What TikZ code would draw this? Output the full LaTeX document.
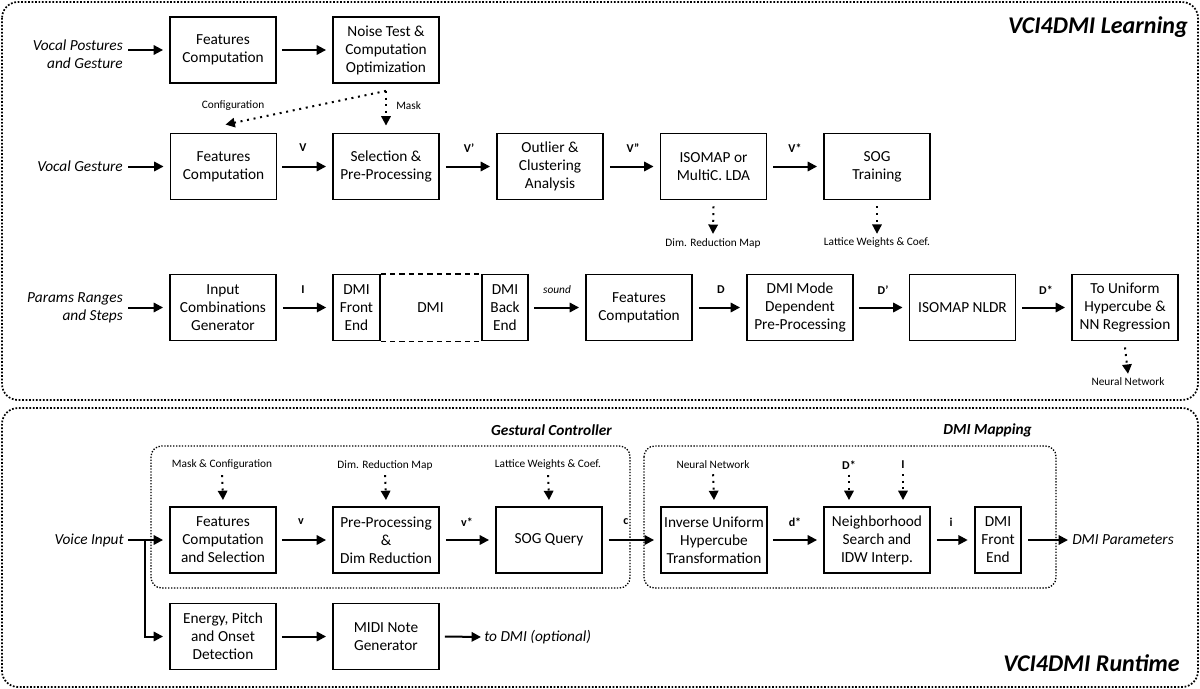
\documentclass[tikz,border=0pt]{standalone}
\usepackage{fontspec}
\setmainfont{Carlito}
\usetikzlibrary{arrows.meta,calc}
\begin{document}
\begin{tikzpicture}[x=0.75pt,y=-0.75pt,
 box/.style={draw, line width=1.4pt, minimum width=79.5pt, minimum height=49.5pt, align=center, font=\fontsize{11.5}{13.5}\selectfont, inner sep=1pt},
 narrow/.style={box, minimum width=35pt},
 arr/.style={line width=1.5pt, -{Triangle[length=7pt,width=7pt]}},
 darr/.style={line width=1.5pt, dash pattern=on 1.5pt off 3.5pt, -{Triangle[length=7pt,width=7pt]}},
 lbl/.style={font=\fontsize{11.5}{13.5}\selectfont\itshape, align=right, inner sep=0pt},
 small/.style={font=\fontsize{8.5}{10}\selectfont, inner sep=0pt},
 var/.style={font=\fontsize{9}{10}\selectfont\bfseries, inner sep=0pt},
 ttl/.style={font=\fontsize{18}{20}\selectfont\bfseries\itshape, inner sep=0pt},
 sttl/.style={font=\fontsize{11.5}{13}\selectfont\bfseries\itshape, inner sep=0pt},
 grp/.style={draw, line width=1pt, dash pattern=on 1pt off 1.2pt, rounded corners=8pt},
 outer/.style={draw, line width=1.3pt, dash pattern=on 1.3pt off 1.3pt, rounded corners=12pt},
]
\useasboundingbox (0,0) rectangle (1200,689);
% outer frames
\draw[outer] (2,2) rectangle (1198,400);
\draw[outer] (2,408) rectangle (1198,687);
\node[ttl, anchor=east] (tl) at (1188,27) {VCI4DMI Learning};
\node[ttl, anchor=east] (tr) at (1180,663) {VCI4DMI Runtime};

% ---------- Row 1
\node[lbl, anchor=east] (vp) at (123,54) {Vocal Postures\\and Gesture};
\node[box] (fc1) at (223,50) {Features\\Computation};
\node[box] (noise) at (386,50) {Noise Test \&\\Computation\\Optimization};
\draw[arr] ($(vp.east |- fc1.west)+(5,0)$) -- ($(fc1.west)+(-6,0)$);
\draw[arr] ($(fc1.east)+(5,0)$) -- ($(noise.west)+(-6,0)$);

% ---------- Row 2
\node[lbl, anchor=east] (vg) at (123,166.5) {Vocal Gesture};
\node[box] (fc2) at (223.5,166.5) {Features\\Computation};
\node[box] (sel) at (386,166.5) {Selection \&\\Pre-Processing};
\node[box] (outl) at (550,166.5) {Outlier \&\\Clustering\\Analysis};
\node[box] (iso) at (713.5,166.5) {ISOMAP or\\MultiC. LDA};
\node[box] (sog) at (877,166.5) {SOG\\Training};
\draw[arr] ($(vg.east)+(5,0)$) -- ($(fc2.west)+(-6,0)$);
\draw[arr] ($(fc2.east)+(5,0)$) -- ($(sel.west)+(-6,0)$);
\draw[arr] ($(sel.east)+(6,0)$) -- ($(outl.west)+(-6,0)$);
\draw[arr] ($(outl.east)+(6,0)$) -- ($(iso.west)+(-6,0)$);
\draw[arr] ($(iso.east)+(6,0)$) -- ($(sog.west)+(-6,0)$);
\node[var] (v1) at (303,148) {V};
\node[var] (v2) at (469,148) {V’};
\node[var] (v3) at (633,148) {V”};
\node[var] (v4) at (795,148) {V*};
\coordinate (nsb) at ($(noise.south)+(0,7)$);
\draw[darr] (nsb) -- ($(sel.north)+(0,-7)$);
\draw[darr] (nsb) -- ($(fc2.north)+(2,-8)$);
\node[small, anchor=west] (mask) at (396,106) {Mask};
\node[small] (conf) at (233,106) {Configuration};
\node[small] (dimmap) at (713,243) {Dim. Reduction Map};
\node[small] (latt) at (877,243) {Lattice Weights \& Coef.};
\draw[darr] ($(iso.south)+(0,6)$) -- ($(dimmap.north)+(0,-4)$);
\draw[darr] ($(sog.south)+(0,6)$) -- ($(latt.north)+(0,-4)$);

% ---------- Row 3
\node[lbl, anchor=east] (pr) at (123,307.5) {Params Ranges\\and Steps};
\node[box] (icg) at (223,307.5) {Input\\Combinations\\Generator};
\node[narrow] (fe) at (356.5,307.5) {DMI\\Front\\End};
\node[narrow] (be) at (505,307.5) {DMI\\Back\\End};
\draw[line width=1.4pt, dash pattern=on 4pt off 3pt] (fe.north east) -- (be.north west) (fe.south east) -- (be.south west);
\node[font=\fontsize{11.5}{13.5}\selectfont] (dmi) at (430.5,307.5) {DMI};
\node[box] (fc3) at (639,307.5) {Features\\Computation};
\node[box] (mode) at (800,307.5) {DMI Mode\\Dependent\\Pre-Processing};
\node[box] (nldr) at (962.5,307.5) {ISOMAP NLDR};
\node[box] (unif) at (1125,307.5) {To Uniform\\Hypercube \&\\NN Regression};
\draw[arr] ($(pr.east)+(5,0)$) -- ($(icg.west)+(-6,0)$);
\draw[arr] ($(icg.east)+(6,0)$) -- ($(fe.west)+(-6,0)$);
\draw[arr] ($(be.east)+(5,0)$) -- ($(fc3.west)+(-6,0)$);
\draw[arr] ($(fc3.east)+(6,0)$) -- ($(mode.west)+(-6,0)$);
\draw[arr] ($(mode.east)+(5,0)$) -- ($(nldr.west)+(-6,0)$);
\draw[arr] ($(nldr.east)+(6,0)$) -- ($(unif.west)+(-6,0)$);
\node[var] (iI) at (303,290) {I};
\node[small, font=\fontsize{8.5}{10}\selectfont\itshape] (snd) at (557,290) {sound};
\node[var] (dD) at (721,290) {D};
\node[var] (dD2) at (883,290) {D’};
\node[var] (dD3) at (1046,290) {D*};
\node[small] (nn) at (1128,382) {Neural Network};
\draw[darr] ($(unif.south)+(0,6)$) -- ($(nn.north)+(0,-4)$);

% ---------- Runtime
\draw[grp] (151,446) rectangle (630,588);
\draw[grp] (644,446) rectangle (1056,588);
\node[sttl, anchor=east] (gc) at (612,430) {Gestural Controller};
\node[sttl, anchor=east] (dm) at (1032,430) {DMI Mapping};

\node[lbl, anchor=east] (voice) at (124,540) {Voice Input};
\node[box] (fcs) at (223,540) {Features\\Computation\\and Selection};
\node[box] (pre) at (386,540) {Pre-Processing\\\&\\Dim Reduction};
\node[box] (sogq) at (549,540) {SOG Query};
\node[box] (inv) at (714,540) {Inverse Uniform\\Hypercube\\Transformation};
\node[box] (nbh) at (877,540) {Neighborhood\\Search and\\IDW Interp.};
\node[narrow] (fe2) at (998,540) {DMI\\Front\\End};
\node[lbl, anchor=west] (dmip) at (1072,540) {DMI Parameters};

\draw[arr] ($(voice.east)+(4,0)$) -- ($(fcs.west)+(-6,0)$);
\draw[arr] ($(fcs.east)+(5,0)$) -- ($(pre.west)+(-6,0)$);
\draw[arr] ($(pre.east)+(6,0)$) -- ($(sogq.west)+(-6,0)$);
\draw[arr] ($(sogq.east)+(6,0)$) -- ($(inv.west)+(-6,0)$);
\draw[arr] ($(inv.east)+(5,0)$) -- ($(nbh.west)+(-6,0)$);
\draw[arr] ($(nbh.east)+(6,0)$) -- ($(fe2.west)+(-6,0)$);
\draw[arr] ($(fe2.east)+(6,0)$) -- ($(dmip.west)+(-4,0)$);

\node[var] (lv) at (301,522) {v};
\node[var] (lvs) at (467,522) {v*};
\node[var] (lc) at (626,522) {c};
\node[var] (lds) at (795,522) {d*};
\node[var] (li) at (951,522) {i};

\node[small] (mc) at (222,465) {Mask \& Configuration};
\node[small] (drm) at (385,465) {Dim. Reduction Map};
\node[small] (lwc) at (548,465) {Lattice Weights \& Coef.};
\node[small] (nnw) at (713,465) {Neural Network};
\node[var] (dsI) at (849,465) {D*};
\node[var] (iI2) at (903,465) {I};
\draw[darr] ($(mc.south)+(0,5)$) -- ($(fcs.north)+(0,-6)$);
\draw[darr] ($(drm.south)+(0,5)$) -- ($(pre.north)+(0,-6)$);
\draw[darr] ($(lwc.south)+(0,5)$) -- ($(sogq.north)+(0,-6)$);
\draw[darr] ($(nnw.south)+(0,5)$) -- ($(inv.north)+(0,-6)$);
\draw[darr] ($(dsI.south)+(0,5)$) -- ($(nbh.north -| dsI.south)+(0,-6)$);
\draw[darr] ($(iI2.south)+(0,5)$) -- ($(nbh.north -| iI2.south)+(0,-6)$);

\node[box] (energy) at (223,636.5) {Energy, Pitch\\and Onset\\Detection};
\node[box] (midi) at (386,636.5) {MIDI Note\\Generator};
\node[lbl, anchor=west] (todmi) at (484,637) {to DMI (optional)};
\coordinate (br) at (145,540);
\draw[arr] (br) |- ($(energy.west)+(-6,0)$);
\draw[arr] ($(energy.east)+(5,0)$) -- ($(midi.west)+(-6,0)$);
\draw[arr] ($(midi.east)+(5,0)$) -- ($(todmi.west)+(-3,0)$);
\end{tikzpicture}
\end{document}
